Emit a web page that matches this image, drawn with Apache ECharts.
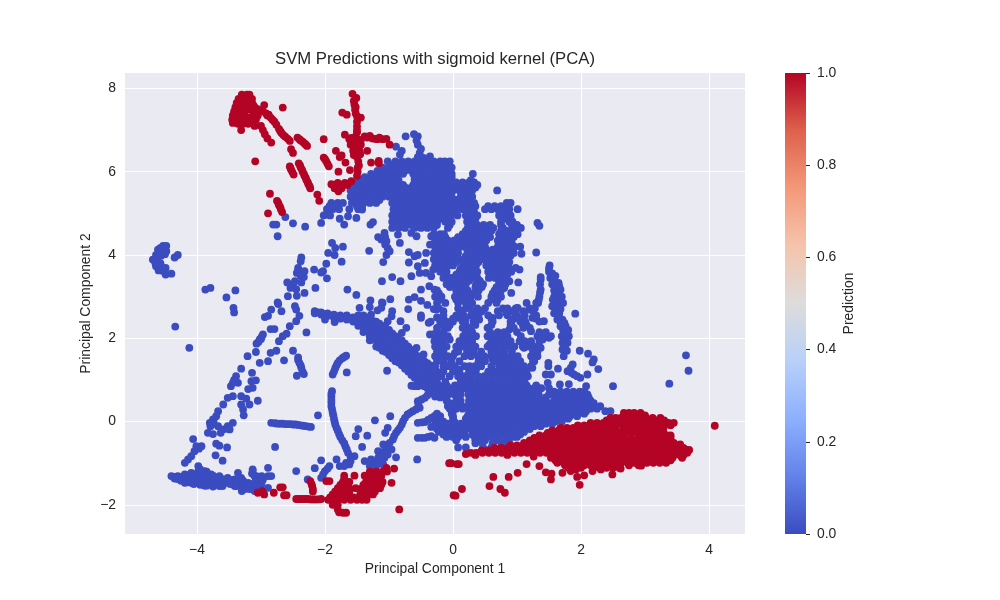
<!DOCTYPE html>
<html><head><meta charset="utf-8">
<script src="https://cdn.jsdelivr.net/npm/echarts@6/dist/echarts.min.js"></script>
<style>html,body{margin:0;padding:0;background:#fff}#c{width:1000px;height:600px}</style>
</head><body><div id="c"></div>
<script>
const title = "SVM Predictions with sigmoid kernel (PCA)";
const xTicks = [-4,-2,0,2,4];
const yTicks = [-2,0,2,4,6,8];
const barTicks = [0,0.2,0.4,0.6,0.8,1.0];
const BLUE = "#3b4cc0", RED = "#b40426";

const blueLeftClump = [[-4.53,4.22],[-4.48,4.22],[-4.61,4.13],[-4.53,4.09],[-4.48,4.09],[-4.64,4],[-4.56,3.98],[-4.69,3.89],[-4.62,3.85],[-4.64,3.73],[-4.56,3.71],[-4.49,3.69],[-4.6,3.63],[-4.49,3.53],[-4.4,3.55],[-4.35,3.94],[-4.3,4],[-4.57,4.17],[-4.57,4.05],[-4.5,4.02],[-4.65,3.8],[-4.57,3.8],[-4.54,3.62]];
const blueSparseUpper = [[-2.76,4.73],[-2.81,4.73],[-2.62,4.91],[-2.5,4.76],[-2.31,4.68],[-2.74,4.45],[-2.06,4.77],[-1.95,4.97],[-1.77,4.87],[-1.7,4.73],[-1.64,4.93],[-1.51,4.89],[-1.42,5.09],[-1.29,4.73],[-1.25,4.79],[-1.12,4.37],[-1.04,4.33],[-1.07,4.53],[-1.02,4.17],[-0.99,4.09],[-1.04,4],[-0.83,4.29],[-0.86,4.49],[-0.65,4.53],[-0.57,4.45],[-1.31,4.1],[-1.09,3.83],[-0.69,4.07],[-0.6,3.97],[-0.55,4],[-0.69,3.82],[-1.89,4.29],[-1.84,4.17],[-1.72,4.2],[-1.95,4.05],[-1.85,4],[-1.74,3.84],[-2.37,3.94],[-2.38,3.85],[-2.42,3.69],[-2.44,3.57],[-2.32,3.61],[-2.33,3.47],[-2.17,3.65],[-1.98,3.79],[-2.03,3.61],[-2.06,3.58],[-1.97,3.44],[-2.59,3.34],[-2.47,3.37],[-2.37,3.34],[-2.54,3.21],[-2.45,3.18],[-2.15,3.21],[-2.32,3.09],[-2.58,3.01],[-2.44,3.02],[-3.87,3.17],[-3.79,3.21],[-3.4,3.15],[-3.54,2.98],[-2.74,2.86],[-1.65,3.17],[-1.51,3.04],[-1.29,2.91],[-1.11,2.86],[-0.98,2.94],[-1.11,3.37],[-0.95,3.47],[-0.82,3.37],[-0.69,2.93],[-0.6,2.99],[-0.65,3.49],[-0.55,3.73],[-0.44,3.81],[-0.52,3.57],[-0.42,3.57],[-0.34,3.49],[-0.5,3.17],[-0.37,3.25],[-0.29,3.17],[-0.31,3.65],[-0.42,4.05],[-0.36,4.25],[-0.34,4.45],[-0.5,2.9],[-0.4,2.8],[-0.3,2.7],[-0.35,2.4],[-0.5,2.55],[-0.25,2.5],[-0.7,2.7],[-0.95,2.65],[-1.1,2.85],[-1.3,2.75],[-0.74,6.85],[-0.61,6.9],[-0.55,6.85],[-0.55,6.65],[-0.52,6.45],[-0.89,6.6],[-0.83,6.41],[-0.36,6.37],[-0.57,6.75],[-0.5,6.55],[-0.55,6.35],[-0.8,6.5],[-0.46,6.33],[-1.17,4.43],[-1.06,4.43],[-1.06,4.25],[-2.42,3.63],[-2.38,3.5],[-2.5,3.3]];
const blueMidScatter = [[-0.26,2.69],[-0.16,2.45],[-0.08,2.25],[0.08,2.49],[0.16,2.57],[0.26,2.73],[0.36,2.65],[0.41,2.45],[0.54,2.25],[0.62,2.49],[0.83,2.61],[0.93,2.65],[1.01,2.73],[0.91,2.37],[0.88,2.21],[1.09,2.33],[1.19,2.69],[1.24,2.49],[1.22,2.17],[1.42,2.41],[1.5,2.01],[1.4,1.97],[1.37,1.77],[1.3,1.65],[1.27,1.45],[1.24,1.29],[1.11,1.77],[1.22,1.85],[1.04,1.93],[0.88,1.85],[0.8,2.01],[0.65,2.05],[0.57,1.85],[0.49,1.53],[0.62,1.49],[0.78,1.53],[0.96,1.53],[1.04,1.41],[0.26,1.33],[0.36,1.25],[0.1,1.25],[0.03,1.65],[-0.05,1.97],[-0.21,1.65],[-0.08,1.33]];
const blueSparseLeft = [[-4.34,2.28],[-4.12,1.77],[-3.43,2.73],[-3.42,2.62],[-2.73,2.82],[-2.84,2.69],[-2.89,2.54],[-2.94,2.51],[-2.68,2.65],[-2.47,2.77],[-2.45,2.69],[-2.4,2.54],[-2.45,2.41],[-2.55,2.29],[-2.85,2.22],[-2.79,2.22],[-2.29,2.14],[-2.6,2.11],[-2.66,2.05],[-2.72,1.93],[-2.97,2.09],[-3.02,1.97],[-3.07,1.87],[-3.08,1.67],[-3.21,1.57],[-2.76,1.7],[-2.85,1.65],[-2.89,1.45],[-3.02,1.41],[-2.5,1.7],[-2.42,1.54],[-2.4,1.41],[-2.37,1.29],[-2.33,1.14],[-2.44,1.1],[-2.64,1.47],[-3.31,1.27],[-3.14,1.17],[-3.39,1.09],[-3.08,0.99],[-3.15,0.97],[-3.44,0.93],[-3.47,0.85],[-3.36,0.93],[-3.13,0.81],[-3.2,0.78],[-3.31,0.61],[-3.23,0.55],[-3.44,0.61],[-3.52,0.57],[-3.59,0.41],[-3.05,0.5],[-3.18,0.41],[-3.31,0.41],[-3.28,0.29],[-3.27,0.15],[-3.67,0.25],[-3.7,0.13],[-3.75,0.05],[-3.8,-0.03],[-3.79,-0.11],[-3.44,-0.03],[-3.52,-0.11],[-3.67,-0.11],[-3.57,-0.18],[-3.49,-0.19],[-3.83,-0.27],[-3.75,-0.3],[-3.63,-0.27],[-4.06,-0.42],[-3.93,-0.59],[-4.01,-0.59],[-4.04,-0.71],[-4.09,-0.83],[-4.14,-0.91],[-4.19,-0.99],[-3.7,-0.53],[-3.65,-0.58],[-3.53,-0.62],[-3.71,-0.81],[-3.6,-0.94],[-2.78,-0.61],[-2.11,0.15],[-3.04,1.91],[-2.99,2.03],[-3,1.98],[-3.42,1],[-3.39,0.95],[-3.97,-0.65],[-3.74,0],[-3.77,-0.07],[-2.42,1.48],[-2.38,1.35],[-2.35,1.2]];
const blueStreaks = [[-2.84,-0.03],[-2.78,-0.04],[-2.7,-0.05],[-2.62,-0.06],[-2.54,-0.06],[-2.46,-0.07],[-2.38,-0.09],[-2.3,-0.11],[-2.22,-0.13],[-2.74,-0.05],[-2.66,-0.05],[-2.58,-0.06],[-2.5,-0.07],[-2.42,-0.08],[-2.34,-0.1],[-2.26,-0.12],[-1.67,1.58],[-1.73,1.52],[-1.8,1.41],[-1.84,1.28],[-1.88,1.13],[-1.7,1.55],[-1.77,1.47],[-1.82,1.35],[-1.86,1.2],[-1.66,1.18],[-1.03,1.22],[-1.89,0.73],[-1.9,0.6],[-1.9,0.45],[-1.89,0.3],[-1.87,0.15],[-1.85,0],[-1.82,-0.15],[-1.78,-0.3],[-1.73,-0.45],[-1.68,-0.6],[-1.64,-0.75],[-1.6,-0.85],[-1.9,0.67],[-1.9,0.52],[-1.9,0.37],[-1.88,0.22],[-1.86,0.07],[-1.84,-0.07],[-1.8,-0.22],[-1.76,-0.37],[-1.7,-0.52],[-1.66,-0.67],[-1.22,0.03],[-0.98,0.13],[-1.02,-0.15],[-1.06,-0.27],[-1.48,-0.18],[-1.52,-0.35],[-1.34,-0.34],[-1.42,-0.61],[-0.89,-0.86],[-0.56,-0.91],[-1.38,-0.95],[-1.3,-1.07],[-1.2,-1.07],[-1.09,-1.03],[-1.28,-0.91],[-1.17,-0.87],[-1.07,-0.87],[-1.17,-0.71],[-1.07,-0.71],[-0.96,-0.67],[-1.09,-0.55],[-0.99,-0.51],[-0.94,-0.43],[-0.89,-0.27],[-0.83,-0.15],[-0.78,0.01],[-0.71,0.17],[-0.63,0.25],[-0.52,0.33],[-0.55,0.49],[-0.44,0.57],[-0.36,0.69],[-1.22,-0.98],[-1.12,-0.95],[-1.12,-0.79],[-1.02,-0.79],[-1.03,-0.6],[-0.92,-0.35],[-0.86,-0.21],[-0.8,-0.07],[-0.75,0.09],[-0.67,0.21],[-0.58,0.29],[-0.54,0.41],[-0.49,0.53],[-0.4,0.63],[-0.55,-0.03],[-0.44,-0.01],[-0.34,0.09],[-0.29,0.13],[-0.49,-0.02],[-0.39,0.04],[-0.34,-0.13],[-0.29,-0.11],[-0.55,-0.39],[-0.44,-0.39],[-0.34,-0.35],[-0.29,-0.39],[-0.49,-0.39],[-0.39,-0.37],[-0.65,0.86],[-0.55,0.85],[-0.44,0.93],[-0.6,0.85],[-1.54,-0.83],[-1.67,-0.99],[-1.77,-1.07],[-1.82,-0.91],[-2.06,-0.93],[-1.93,-1.07],[-2,-1.19],[-2.06,-1.35],[-2.16,-1.12],[-2.45,-1.19],[-2.89,-1.11],[-3.13,-1.19],[-3.07,-1.31],[-2.97,-1.39],[-2.27,-1.39],[-1.7,-1.07],[-1.62,-1.03],[-1.96,-1.13],[-2.03,-1.27],[-1.6,-0.95]];
const blueWedge = [[-4.4,-1.31],[-4.3,-1.31],[-4.3,-1.38],[-4.19,-1.27],[-4.19,-1.39],[-4.19,-1.47],[-4.09,-1.23],[-4.09,-1.35],[-4.09,-1.47],[-3.98,-1.07],[-3.98,-1.19],[-3.98,-1.31],[-3.98,-1.43],[-3.88,-1.19],[-3.88,-1.31],[-3.88,-1.43],[-3.88,-1.54],[-3.78,-1.27],[-3.78,-1.39],[-3.78,-1.51],[-3.65,-1.31],[-3.65,-1.43],[-3.65,-1.55],[-3.52,-1.35],[-3.52,-1.47],[-3.41,-1.39],[-3.41,-1.55],[-3.36,-1.23],[-3.31,-1.35],[-3.31,-1.51],[-3.3,-1.67],[-3.2,-1.47],[-3.2,-1.59],[-3.13,-1.15],[-3.1,-1.31],[-3.1,-1.47],[-3.1,-1.67],[-2.99,-1.31],[-2.99,-1.47],[-2.89,-1.31],[-2.84,-1.31],[-2.89,-1.59],[-4.35,-1.33],[-4.35,-1.37],[-4.25,-1.33],[-4.25,-1.42],[-4.15,-1.3],[-4.15,-1.38],[-4.15,-1.46],[-4.05,-1.27],[-4.05,-1.35],[-4.05,-1.42],[-4.05,-1.5],[-3.95,-1.15],[-3.95,-1.25],[-3.95,-1.35],[-3.95,-1.45],[-3.95,-1.52],[-3.85,-1.2],[-3.85,-1.28],[-3.85,-1.38],[-3.85,-1.48],[-3.85,-1.54],[-3.75,-1.3],[-3.75,-1.4],[-3.75,-1.5],[-3.75,-1.56],[-3.7,-1.35],[-3.7,-1.47],[-3.6,-1.38],[-3.6,-1.5],[-3.6,-1.55],[-3.48,-1.4],[-3.48,-1.5],[-3.38,-1.45],[-3.38,-1.55],[-3.28,-1.42],[-3.28,-1.58],[-3.18,-1.5],[-3.18,-1.62],[-3.08,-1.4],[-3.08,-1.55],[-3.08,-1.62],[-3,-1.4],[-3,-1.55],[-3.25,-1.62],[-3.14,-1.25]];
const blueBand = [[-2.16,2.65],[-2.16,2.6],[-2.06,2.62],[-2.06,2.57],[-1.96,2.6],[-1.96,2.54],[-1.86,2.57],[-1.86,2.5],[-1.76,2.55],[-1.76,2.47],[-1.66,2.55],[-1.66,2.45],[-1.56,2.5],[-1.56,2.4],[-1.48,2.55],[-1.48,2.4],[-1.48,2.3],[-1.4,2.55],[-1.4,2.4],[-1.4,2.25],[-1.4,2.15],[-1.3,2.5],[-1.3,2.35],[-1.3,2.2],[-1.3,2.05],[-1.3,1.95],[-1.2,2.4],[-1.2,2.25],[-1.2,2.1],[-1.2,1.95],[-1.2,1.8],[-1.1,2.3],[-1.1,2.15],[-1.1,2],[-1.1,1.85],[-1.1,1.7],[-1,2.2],[-1,2.05],[-1,1.9],[-1,1.75],[-1,1.6],[-0.9,2.05],[-0.9,1.9],[-0.9,1.75],[-0.9,1.6],[-0.9,1.45],[-0.8,1.95],[-0.8,1.8],[-0.8,1.65],[-0.8,1.5],[-0.8,1.35],[-0.7,1.8],[-0.7,1.65],[-0.7,1.5],[-0.7,1.35],[-0.7,1.2],[-0.6,1.65],[-0.6,1.5],[-0.6,1.35],[-0.6,1.2],[-0.6,1.05],[-0.5,1.5],[-0.5,1.35],[-0.5,1.2],[-0.5,1.05],[-0.5,0.9],[-0.4,1.4],[-0.4,1.25],[-0.4,1.1],[-0.4,0.95],[-0.4,0.8],[-0.3,1.3],[-0.3,1.15],[-0.3,1],[-0.3,0.85],[-0.3,0.7],[-2,2.45],[-1.85,2.39],[-1.46,2.73],[-1.28,2.57],[-1.12,2.73],[-1.18,2.67],[-0.96,2.53],[-1.02,2.41],[-0.82,2.41],[-0.73,2.25],[-0.8,2.13],[-0.5,2.49],[-0.38,2.37],[-0.3,2.1],[-0.57,1.77],[-0.46,1.61],[-0.36,2.09],[-0.29,1.93],[-2.11,2.62],[-2.01,2.58],[-1.91,2.55],[-1.81,2.52],[-1.71,2.5],[-1.61,2.48],[-1.52,2.46],[-1.44,2.48],[-1.44,2.32],[-1.35,2.48],[-1.35,2.32],[-1.35,2.18],[-1.25,2.42],[-1.25,2.28],[-1.25,2.12],[-1.25,1.97],[-1.15,2.35],[-1.15,2.2],[-1.15,2.05],[-1.15,1.9],[-1.15,1.77],[-1.05,2.25],[-1.05,2.1],[-1.05,1.95],[-1.05,1.8],[-1.05,1.67],[-0.95,2.12],[-0.95,1.97],[-0.95,1.82],[-0.95,1.67],[-0.95,1.52],[-0.85,2],[-0.85,1.85],[-0.85,1.7],[-0.85,1.55],[-0.85,1.42],[-0.75,1.87],[-0.75,1.72],[-0.75,1.57],[-0.75,1.42],[-0.75,1.27],[-0.65,1.72],[-0.65,1.57],[-0.65,1.42],[-0.65,1.27],[-0.65,1.12],[-0.55,1.57],[-0.55,1.42],[-0.55,1.27],[-0.55,1.12],[-0.55,0.97],[-0.45,1.45],[-0.45,1.3],[-0.45,1.15],[-0.45,1],[-0.45,0.85],[-0.35,1.35],[-0.35,1.2],[-0.35,1.05],[-0.35,0.9],[-0.35,0.75],[-0.28,0.6],[-0.2,1.1]];
const blueColumn = [[1.51,3.75],[1.5,3.6],[1.55,3.56],[1.6,3.5],[1.52,3.45],[1.65,3.33],[1.55,3.3],[1.68,3.17],[1.58,3.15],[1.7,3],[1.58,3],[1.72,2.85],[1.6,2.85],[1.55,2.77],[1.63,2.77],[1.58,2.6],[1.66,2.6],[1.63,2.45],[1.71,2.45],[1.68,2.29],[1.76,2.29],[1.74,2.13],[1.81,2.05],[1.71,1.89],[1.79,1.89],[1.71,1.73],[1.73,1.57],[1.75,2],[1.37,3.47],[1.37,3.41],[1.37,3.17],[1.35,3],[1.33,2.85],[1.91,2.59],[1.98,1.7],[2.11,1.63],[2.2,1.49],[2.18,1.42],[2.27,1.26],[2.5,0.85],[3.64,1.59],[3.68,1.22],[3.38,0.91],[1.49,1.41],[1.49,1.33],[1.64,1.27],[1.87,1.37],[1.79,1.21],[1.89,1.13],[1.99,1.05],[2.1,1.13],[2.08,0.85],[1.53,1.13],[1.45,1.13],[1.48,0.93],[1.67,0.89],[1.81,0.9],[1.02,3.34],[0.88,3.37],[0.8,3.21],[0.7,3.09],[0.91,3.09],[1.32,4.77],[1.35,4.7],[1.3,4.06],[1.07,4.03],[0.98,3.69],[1.04,3.65],[1.56,3.45],[1.62,3.2],[1.64,3.05],[1.65,2.9],[1.6,2.7],[1.68,2.7],[1.65,2.55],[1.68,2.37],[1.74,2.37],[1.72,2.2],[1.8,2.2],[1.78,2],[1.7,2.05],[1.75,1.8],[1.78,1.7],[1.36,3.3],[1.36,3.1],[1.34,2.92],[1.5,3.68],[1.58,3.4],[1.62,3.1],[1.66,3.25],[1.56,2.93],[1.84,1.29],[1.85,1.17],[1.94,1.09]];
const blueRows = [
[6.25,[-1.02,-0.9,-0.8,-0.7,-0.6,-0.5,-0.4,-0.3,-0.2,-0.13,-0.05]],
[6.17,[-0.95,-0.85,-0.75,-0.65,-0.55,-0.45,-0.35,-0.25,-0.15,-0.07]],
[6.1,[-1.1,-1,-0.9,-0.8,-0.7,-0.6,-0.5,-0.4,-0.3,-0.2,-0.1,-0.02]],
[6.02,[-1.18,-1.05,-0.95,-0.85,-0.75,-0.65,-0.55,-0.45,-0.35,-0.25,-0.15,-0.05]],
[5.95,[-1.28,-1.18,-1.08,-0.98,-0.88,-0.78,-0.62,-0.52,-0.42,-0.32,-0.22,-0.12,-0.02,0.31]],
[5.87,[-1.38,-1.28,-1.18,-1.08,-0.98,-0.88,-0.6,-0.5,-0.4,-0.3,-0.2,-0.1,-0.02]],
[5.8,[-1.45,-1.35,-1.25,-1.15,-1.05,-0.95,-0.85,-0.6,-0.5,-0.4,-0.3,-0.2,-0.1,-0.03,0.28]],
[5.74,[-1.5,-1.4,-1.3,-1.2,-1.1,-1,-0.9,-0.55,-0.45,-0.35,-0.25,-0.15,-0.05,0.05,0.15,0.25,0.33]],
[5.68,[-1.55,-1.45,-1.35,-1.25,-1.15,-1.05,-0.95,-0.85,-0.78,-0.62,-0.5,-0.4,-0.3,-0.2,-0.1,0,0.1,0.2,0.3,0.38]],
[5.62,[-1.58,-1.45,-1.35,-1.25,-1.15,-1.05,-0.95,-0.85,-0.75,-0.65,-0.55,-0.45,-0.35,-0.25,-0.15,-0.05,0.05,0.15,0.25,0.35]],
[5.55,[-1.6,-1.5,-1.4,-1.3,-1.2,-1.1,-1,-0.9,-0.8,-0.7,-0.6,-0.5,-0.4,-0.3,-0.2,-0.1,0,0.1,0.2,0.3,0.69]],
[5.47,[-1.55,-1.45,-1.35,-1.25,-1.15,-1.05,-0.95,-0.85,-0.75,-0.65,-0.55,-0.45,-0.35,-0.25,-0.15,-0.05,0.15,0.25]],
[5.4,[-1.6,-1.5,-1.4,-1.3,-1.2,-1.1,-1,-0.9,-0.8,-0.7,-0.6,-0.5,-0.4,-0.3,-0.2,-0.1,-0.02,0.12,0.22,0.3]],
[5.32,[-1.55,-1.45,-1.35,-1.25,-1.15,-0.9,-0.8,-0.7,-0.6,-0.5,-0.4,-0.3,-0.2,-0.1,0.05,0.15,0.25]],
[5.25,[-1.9,-1.8,-1.72,-1.58,-1.48,-1.4,-1.3,-1.2,-0.95,-0.85,-0.75,-0.65,-0.55,-0.45,-0.35,-0.25,-0.15,-0.05,0,0.1,0.2,0.33,0.84,0.9]],
[5.17,[-1.93,-1.83,-1.5,-1.42,-0.9,-0.8,-0.7,-0.6,-0.5,-0.4,-0.3,-0.2,-0.08,0.1,0.25,0.35,0.55,0.65,0.75,0.85]],
[5.1,[-1.97,-1.88,-1.78,-1.62,-1.48,-0.93,-0.83,-0.73,-0.63,-0.53,-0.43,-0.33,-0.23,-0.13,-0.03,0.05,0.15,0.32,0.5,0.6,0.7,0.8,0.88,1.01]],
[5.02,[-0.9,-0.8,-0.7,-0.6,-0.5,-0.4,-0.3,-0.2,-0.1,0.02,0.25,0.33,0.8]],
[4.95,[-2.02,-1.92,-0.95,-0.85,-0.75,-0.65,-0.55,-0.45,-0.35,-0.25,-0.13,-0.03,0.07,0.2,0.3,0.38,0.72,0.85,0.9]],
[4.87,[-0.9,-0.8,-0.7,-0.6,-0.5,-0.4,-0.3,-0.2,-0.05,0.25,0.35,0.8,0.9]],
[4.8,[-0.95,-0.85,-0.75,-0.65,-0.55,-0.45,-0.35,-0.25,-0.12,-0.02,0.22,0.32,0.75,0.88,0.93]],
[4.72,[-0.9,-0.8,-0.65,-0.55,-0.45,-0.35,-0.25,-0.05,0.28,0.38,0.48,0.58,0.75,0.92,1]],
[4.65,[-0.95,-0.85,-0.75,-0.6,-0.5,-0.4,-0.3,-0.08,0.23,0.33,0.43,0.53,0.63,0.78,0.95,1.06]],
[4.58,[0.2,0.3,0.4,0.5,0.6,0.75,0.85,0.95]],
[4.5,[-0.3,-0.2,-0.14,0.15,0.25,0.35,0.45,0.55,0.72,0.82,0.92,1.01]],
[4.43,[-0.22,-0.12,0.08,0.18,0.28,0.38,0.48,0.58,0.75,0.85,0.95]],
[4.35,[-0.28,-0.18,-0.08,0.02,0.13,0.22,0.32,0.42,0.52,0.7,0.8,0.9]],
[4.28,[-0.22,-0.12,-0.02,0.08,0.18,0.28,0.38,0.48,0.72,0.82,0.92]],
[4.2,[-0.28,-0.18,-0.08,0.02,0.12,0.2,0.3,0.4,0.5,0.7,0.8,0.9,0.96,1.05]],
[4.13,[-0.25,-0.15,-0.05,0.05,0.22,0.32,0.42,0.52,0.62,0.72,0.82,0.92]],
[4.05,[-0.3,-0.2,-0.1,0,0.08,0.26,0.36,0.46,0.56,0.66,0.76,0.86,0.95]],
[3.98,[-0.25,-0.15,-0.05,0.05,0.2,0.3,0.4,0.5,0.6,0.7,0.8,0.9]],
[3.9,[-0.3,-0.2,-0.1,0,0.1,0.25,0.35,0.45,0.55,0.65,0.75,0.85]],
[3.83,[-0.25,-0.15,-0.05,0.05,0.2,0.3,0.4,0.58,0.68,0.78,0.88]],
[3.75,[-0.28,-0.18,-0.08,0,0.16,0.26,0.36,0.52,0.62,0.72,0.82]],
[3.68,[-0.25,-0.13,0.12,0.22,0.32,0.58,0.68,0.78,0.88]],
[3.6,[-0.2,-0.1,0.1,0.2,0.3,0.38,0.55,0.65,0.75,0.8,0.91]],
[3.53,[-0.12,0.05,0.15,0.25,0.35,0.6,0.7,0.85]],
[3.45,[-0.15,-0.05,0,0.08,0.18,0.28,0.38,0.56,0.66,0.78]],
[3.38,[-0.05,0.05,0.15,0.25,0.42,0.72,0.82]],
[3.3,[-0.1,0,0.1,0.2,0.36,0.47,0.72,0.82]],
[3.23,[-0.05,0.08,0.18,0.35,0.45,0.68,0.78]],
[3.15,[-0.25,0.05,0.15,0.23,0.4,0.65,0.75]],
[3.08,[-0.22,0.1,0.2,0.32,0.62,0.72]],
[3,[-0.28,-0.18,0.03,0.13,0.22,0.28,0.39,0.6,0.7,0.75]],
[2.93,[-0.2,0.05,0.15,0.25,0.6,0.7]],
[2.85,[-0.25,-0.12,0.08,0.2,0.3,0.55,0.68,1.15,1.3]],
[2.72,[-0.22,0.08,0.2,0.38,0.5,0.78,0.85,0.98,1,1.2,1.28]],
[2.65,[-0.15,0.12,0.3,0.45,0.7,0.95,1.1,1.25]],
[2.55,[-0.15,0.05,0.12,0.28,0.4,0.55,0.72,0.85,1,1.12,1.3]],
[2.47,[-0.15,0,0.2,0.35,0.6,0.95,1.1,1.3]],
[2.4,[-0.2,-0.1,0,0.15,0.32,0.62,0.9,1.05,1.13,1.35]],
[2.32,[-0.2,-0.05,0.2,0.35,0.6,0.9,1.15]],
[2.25,[-0.25,-0.12,0.15,0.28,0.55,0.95,1.1,1.2]],
[2.15,[-0.25,-0.15,0.2,0.3,0.58,0.7,0.8,1,1.35,1.45]],
[2.05,[-0.28,-0.18,-0.08,0.16,0.26,0.36,0.54,0.64,0.74,0.85,1.06,1.32,1.42,1.53]],
[1.93,[-0.25,-0.15,0.1,0.2,0.3,0.6,0.7,0.8,0.9,1.12,1.22,1.35]],
[1.8,[-0.28,-0.18,-0.1,0.05,0.15,0.25,0.35,0.54,0.64,0.74,0.84,0.96,1.09,1.18,1.27,1.35]],
[1.68,[-0.25,-0.15,0.08,0.22,0.32,0.44,0.6,0.7,0.8,0.92,1.25,1.32]],
[1.57,[-0.28,-0.18,-0.08,0,0.18,0.28,0.39,0.49,0.6,0.7,0.8,0.9,1.01,1.22,1.32]],
[1.45,[-0.25,-0.15,-0.03,0.1,0.4,0.5,0.65,0.75,0.85,0.95,1.05,1.25]],
[1.33,[-0.28,-0.15,0.03,0.18,0.34,0.44,0.6,0.72,0.82,0.92,1.02,1.11,1.22]],
[1.2,[-0.25,-0.15,0,0.1,0.25,0.35,0.55,0.65,0.75,0.85,0.95,1.05,1.15]],
[1.09,[-0.28,-0.18,-0.05,0.08,0.18,0.28,0.39,0.49,0.6,0.7,0.8,0.9,1,1.1,1.17]],
[0.95,[-0.25,-0.12,0.12,0.22,0.32,0.42,0.52,0.62,0.72,0.82,0.92,1.02,1.12]],
[0.87,[-0.22,-0.1,0.03,0.15,0.25,0.35,0.45,0.55,0.65,0.75,0.85,0.95,1.05,1.15,1.3]],
[0.8,[-0.28,-0.18,-0.05,0.08,0.18,0.28,0.38,0.48,0.58,0.68,0.78,0.88,0.98,1.08,1.18,1.27,1.38,1.5]],
[0.72,[-0.25,-0.15,0,0.1,0.3,0.4,0.5,0.6,0.7,0.8,0.9,1,1.1,1.2,1.3,1.58,1.68,1.78,1.88,1.98,2.05]],
[0.65,[-0.28,-0.18,-0.08,0.02,0.12,0.24,0.34,0.44,0.54,0.64,0.74,0.84,0.94,1.04,1.14,1.24,1.34,1.5,1.6,1.72,1.82,1.92,2.02,2.1]],
[0.58,[-0.2,-0.1,0.3,0.4,0.5,0.6,0.7,0.8,0.9,1,1.1,1.2,1.3,1.45,1.6,1.7,1.8,1.9,2,2.12]],
[0.5,[-0.1,0.05,0.12,0.25,0.35,0.45,0.55,0.65,0.75,0.85,0.95,1.05,1.15,1.25,1.4,1.58,1.68,1.78,1.88,1.98,2.08,2.15]],
[0.44,[-0.05,0.1,0.3,0.4,0.5,0.6,0.7,0.8,0.9,1,1.1,1.2,1.3,1.4,1.5,1.6,1.7,1.8,1.9,2,2.1,2.2]],
[0.37,[-0.08,0.02,0.12,0.22,0.32,0.42,0.52,0.62,0.72,0.82,0.92,1.02,1.12,1.22,1.32,1.42,1.52,1.62,1.72,1.82,1.92,2.02,2.12,2.2,2.3]],
[0.31,[-0.05,0.05,0.15,0.25,0.35,0.45,0.55,0.65,0.75,0.85,0.95,1.05,1.15,1.25,1.35,1.45,1.55,1.65,1.75,1.85,1.95,2.05,2.15,2.25]],
[0.25,[0,0.28,0.38,0.48,0.58,0.68,0.78,0.88,0.98,1.08,1.18,1.28,1.38,1.48,1.58,1.68,1.78,1.88,1.98,2.08,2.38,2.46]],
[0.19,[-0.25,-0.02,0.25,0.35,0.45,0.55,0.65,0.75,0.85,0.95,1.05,1.15,1.25,1.35,1.45,1.55,1.65,1.75,1.85,1.95,2.05]],
[0.13,[-0.28,-0.2,0,0.23,0.33,0.43,0.53,0.63,0.73,0.83,0.93,1.03,1.13,1.23,1.33,1.43,1.53,1.63,1.73,1.83,1.94]],
[0.07,[-0.22,0,0.2,0.3,0.4,0.5,0.6,0.7,0.8,0.9,1,1.1,1.2,1.3,1.4,1.5,1.6,1.7,1.8]],
[0,[-0.25,-0.15,0.02,0.2,0.3,0.4,0.5,0.6,0.7,0.8,0.9,1,1.1,1.2,1.3,1.4,1.5,1.6,1.7]],
[-0.05,[-0.28,-0.18,-0.08,0.02,0.12,0.25,0.35,0.45,0.55,0.65,0.75,0.85,0.95,1.05,1.15,1.25,1.35,1.45,1.55]],
[-0.11,[-0.28,-0.18,-0.08,0.02,0.12,0.23,0.33,0.43,0.53,0.63,0.73,0.83,0.93,1.03,1.13,1.27,1.37]],
[-0.18,[-0.25,-0.15,-0.05,0.05,0.15,0.28,0.38,0.48,0.58,0.68,0.78,0.88,0.98,1.08,1.2]],
[-0.25,[-0.22,-0.1,0,0.1,0.18,0.34,0.44,0.54,0.64,0.74,0.84,0.94,1.04,1.11]],
[-0.31,[-0.15,0.02,0.15,0.3,0.4,0.5,0.6,0.7,0.8,0.9,1,1.05]],
[-0.37,[-0.1,0,0.08,0.2,0.34,0.44,0.54,0.64,0.74,0.84,0.94,1]],
[-0.45,[0.05,0.35,0.5,0.7,0.85]],
[-0.52,[0.35,0.46,0.62,0.76,0.88]],
[-0.62,[0.08,0.2,0.47,0.6]]
];

const redTopLeft = [[-2.66,7.54],[-3.09,6.25],[-3,7.1],[-2.97,7],[-2.94,6.9],[-2.9,6.8],[-2.84,6.7],[-2.97,7.45],[-2.88,7.37],[-2.82,7.25],[-2.76,7.13],[-2.72,7.03],[-2.68,6.93],[-2.62,6.84],[-2.55,6.74],[-2.43,6.82],[-2.38,6.75],[-2.32,6.68],[-2.28,6.62],[-2.02,6.78],[-2.53,6.54],[-2.5,6.45],[-2.55,6.13],[-2.53,6.05],[-2.49,5.93],[-2.41,6.2],[-2.38,6.1],[-2.35,6],[-2.32,5.9],[-2.29,5.8],[-2.26,5.7],[-2.23,5.6],[-2.12,5.45],[-2.09,5.3],[-2.02,6.34],[-1.98,6.25],[-1.94,6.13],[-1.83,6.5],[-1.74,6.39],[-1.77,6.35],[-1.68,6.22],[-1.79,6],[-1.61,6.04],[-2.86,5.47],[-2.75,5.3],[-2.72,5.2],[-2.69,5.1],[-2.67,5.03],[-2.89,5],[-2.92,7.4],[-2.85,7.3],[-2.79,7.2],[-2.7,6.98],[-2.65,6.88],[-2.58,6.79],[-2.4,6.78],[-2.35,6.72],[-2.3,6.65],[-2.39,6.15],[-2.36,6.05],[-2.33,5.95],[-2.3,5.85],[-2.27,5.75],[-2.24,5.65],[-2.54,6.09],[-2.51,5.99],[-2.73,5.25],[-2.7,5.15],[-2,6.3],[-1.96,6.19]];
const redClump = [[-3.3,7.85],[-3.22,7.85],[-3.18,7.85],[-3.35,7.75],[-3.28,7.75],[-3.2,7.75],[-3.14,7.75],[-3.38,7.65],[-3.3,7.65],[-3.22,7.65],[-3.14,7.65],[-3.4,7.55],[-3.32,7.55],[-3.25,7.55],[-3.17,7.55],[-3.1,7.55],[-2.95,7.6],[-3.42,7.45],[-3.34,7.45],[-3.27,7.45],[-3.1,7.45],[-3.03,7.45],[-3.44,7.35],[-3.37,7.35],[-3.3,7.35],[-3.25,7.35],[-3.12,7.35],[-3.05,7.35],[-2.9,7.35],[-3.45,7.25],[-3.38,7.25],[-3.3,7.25],[-3.22,7.25],[-3.15,7.25],[-3.08,7.25],[-3.44,7.17],[-3.36,7.15],[-3.28,7.15],[-3.2,7.15],[-3.12,7.15],[-3.31,7],[-3.1,7.1],[-3.26,7.8],[-3.32,7.7],[-3.24,7.7],[-3.17,7.7],[-3.34,7.6],[-3.26,7.6],[-3.18,7.6],[-3.12,7.6],[-3.36,7.5],[-3.28,7.5],[-3.2,7.5],[-3.13,7.5],[-3.05,7.5],[-3.38,7.4],[-3.32,7.4],[-3.12,7.4],[-3.08,7.3],[-3.42,7.3],[-3.34,7.3],[-3.26,7.3],[-3.18,7.3],[-3.4,7.2],[-3.32,7.2],[-3.24,7.2],[-3.16,7.2]];
const redSpine = [[-1.57,7.87],[-1.51,7.77],[-1.54,7.61],[-1.53,7.49],[-1.5,7.33],[-1.44,7.3],[-1.5,7.09],[-1.73,7.42],[-1.66,7.37],[-1.5,6.95],[-1.52,6.85],[-1.69,6.89],[-1.59,6.81],[-1.48,6.77],[-1.38,6.85],[-1.3,6.86],[-1.22,6.79],[-1.15,6.82],[-1.04,6.79],[-0.99,6.65],[-1.6,6.65],[-1.52,6.65],[-1.44,6.65],[-1.56,6.5],[-1.46,6.5],[-1.55,6.4],[-1.45,6.42],[-1.34,6.5],[-1.28,6.22],[-1.16,6.26],[-1.16,6.2],[-1.48,6.25],[-1.49,6.1],[-1.49,6],[-1.5,5.9],[-1.9,5.7],[-1.8,5.73],[-1.69,5.73],[-1.59,5.77],[-1.85,5.6],[-1.74,5.6],[-1.79,5.53],[-1.55,7.7],[-1.52,7.55],[-1.52,7.4],[-1.5,7.2],[-1.5,7],[-1.55,6.55],[-1.5,6.58],[-1.5,6.35],[-1.47,6.15],[-1.54,6.75],[-1.44,6.76],[-1.34,6.82],[-1.26,6.8],[-1.18,6.78],[-1.1,6.78],[-1.62,6.78],[-1.85,5.68],[-1.75,5.68],[-1.65,5.68],[-1.8,5.6]];
const redIsolated = [[4.09,-0.1],[-0.06,-1],[0.09,-1.02],[0.63,-1.33],[0.87,-1.33],[1.01,-1.23],[1.15,-1.02],[1.26,-0.84],[1.35,-1.07],[1.45,-1.22],[1.54,-1.25],[1.53,-1.39],[0.57,-1.55],[0.74,-1.62],[0.81,-1.71],[0.14,-1.62],[0.01,-1.77],[1.98,-1.52],[1.94,-1.33],[2.05,-1.29],[2.49,-1.27],[1.71,-1.23],[1.84,-1.19],[1.92,-1.15],[2.18,-1.19],[2.31,-1.15],[2.62,-1.13],[2.94,-1.06],[3.4,-0.33],[3.55,-0.55],[3.63,-0.67],[3.69,-0.68],[0.85,-0.8],[0.2,-0.78],[0.35,-0.8],[-0.03,-1],[0.06,-1.02],[0.04,-1.78],[2.78,-0.3],[2.78,-0.4],[2.88,-0.42],[2.85,-0.5]];
const redLower = [[-3.05,-1.71],[-2.95,-1.75],[-2.8,-1.71],[-2.98,-1.67],[-2.66,-1.58],[-2.6,-1.77],[-2.45,-1.86],[-2.38,-1.86],[-2.3,-1.86],[-2.22,-1.87],[-2.14,-1.87],[-2.06,-1.86],[-2.23,-1.43],[-2.2,-1.55],[-2.19,-1.68],[-1.98,-1.43],[-0.92,-1.13],[-1.04,-1.11],[-0.96,-1.47],[-0.84,-2.11],[-1.8,-2.11],[-1.72,-2.19],[-1.67,-2.19],[-2.7,-1.58],[-2.64,-1.77],[-2.41,-1.86],[-2.34,-1.86],[-2.26,-1.86],[-2.18,-1.87],[-2.1,-1.87],[-2.21,-1.5],[-2.19,-1.62],[-1.93,-1.43],[-1.78,-2.18]];
const redRows = [
[-1.2,[-1.3,-1.2,-1.1,-1.03]],
[-1.3,[-1.7,-1.54,-1.38,-1.3,-1.2,-1.12]],
[-1.38,[-1.7,-1.34,-1.24,-1.14]],
[-1.45,[-1.72,-1.62,-1.36,-1.28,-1.18,-1.1]],
[-1.52,[-1.76,-1.67,-1.4,-1.3,-1.2,-1.12]],
[-1.6,[-1.8,-1.72,-1.62,-1.52,-1.42,-1.32,-1.22,-1.14]],
[-1.68,[-1.84,-1.76,-1.62,-1.42,-1.32,-1.22]],
[-1.75,[-1.88,-1.8,-1.7,-1.62,-1.45,-1.35,-1.25]],
[-1.82,[-1.92,-1.84,-1.75,-1.65,-1.55,-1.45,-1.35]],
[-1.88,[-1.95,-1.88,-1.8,-1.7,-1.6,-1.5,-1.42,-1.35]],
[-2,[-1.88,-1.8]],
[0.21,[2.67,2.75,2.83,2.93]],
[0.15,[2.7,2.8,2.9,3]],
[0.09,[2.46,2.54,2.62,2.72,2.82,2.92,3.02,3.12,3.24]],
[0.03,[2.4,2.5,2.58,2.7,2.8,2.9,3,3.1,3.2,3.3]],
[-0.03,[2.15,2.25,2.35,2.45,2.55,2.62,2.77,2.87,2.97,3.07,3.17,3.27,3.37,3.45]],
[-0.09,[1.95,2.05,2.15,2.25,2.35,2.45,2.55,2.72,2.82,2.92,3.02,3.12,3.22,3.3,3.4]],
[-0.15,[1.68,1.78,1.88,1.98,2.08,2.18,2.28,2.38,2.48,2.66,2.76,2.86,2.96,3.06,3.16,3.29]],
[-0.21,[1.55,1.65,1.75,1.85,1.95,2.05,2.15,2.25,2.35,2.45,2.55,2.7,2.8,2.9,3,3.1,3.2,3.25]],
[-0.27,[1.48,1.58,1.68,1.78,1.88,1.98,2.08,2.18,2.28,2.38,2.48,2.58,2.68,2.88,2.98,3.08,3.18,3.29]],
[-0.33,[1.35,1.45,1.55,1.65,1.75,1.85,1.95,2.05,2.15,2.25,2.35,2.45,2.55,2.65,2.95,3.05,3.15,3.25,3.35]],
[-0.39,[1.27,1.37,1.47,1.57,1.67,1.77,1.87,1.97,2.07,2.17,2.27,2.37,2.47,2.57,2.67,2.93,3.1,3.2,3.3,3.4]],
[-0.45,[1.2,1.3,1.4,1.5,1.6,1.7,1.8,1.9,2,2.1,2.2,2.3,2.4,2.5,2.6,2.7,3,3.1,3.2,3.3,3.4]],
[-0.51,[1.11,1.21,1.31,1.41,1.51,1.61,1.71,1.81,1.91,2.01,2.11,2.21,2.31,2.41,2.51,2.61,2.77,2.95,3.05,3.15,3.25,3.35,3.45]],
[-0.57,[0.9,1,1.1,1.2,1.3,1.4,1.5,1.6,1.7,1.8,1.9,2,2.1,2.2,2.3,2.4,2.5,2.6,2.7,2.8,2.9,3,3.1,3.2,3.3,3.4,3.5]],
[-0.63,[0.65,0.75,0.85,0.95,1.05,1.15,1.25,1.35,1.45,1.55,1.65,1.75,1.85,1.95,2.05,2.15,2.25,2.35,2.45,2.55,2.65,2.75,2.85,2.95,3.05,3.15,3.25,3.35,3.45,3.6]],
[-0.69,[0.45,0.55,0.65,0.75,0.85,0.95,1.05,1.15,1.25,1.35,1.45,1.55,1.65,1.75,1.85,1.95,2.05,2.15,2.25,2.35,2.45,2.55,2.65,2.75,2.85,2.95,3.05,3.15,3.25,3.35,3.45,3.55,3.6]],
[-0.75,[0.28,0.36,0.46,0.56,0.66,0.76,0.86,0.96,1.06,1.16,1.26,1.36,1.46,1.56,1.66,1.76,1.86,1.96,2.06,2.16,2.26,2.36,2.46,2.56,2.66,2.76,2.86,2.96,3.06,3.16,3.26,3.36,3.46,3.56,3.66]],
[-0.81,[1.55,1.65,1.75,1.85,1.95,2.05,2.15,2.25,2.35,2.45,2.55,2.65,2.75,2.85,2.95,3.05,3.15,3.25,3.35,3.45,3.55,3.6]],
[-0.87,[1.53,1.63,1.73,1.83,1.93,2.03,2.13,2.23,2.33,2.43,2.53,2.63,2.73,2.83,2.93,3.03,3.13,3.23,3.33,3.43,3.58]],
[-0.93,[1.6,1.7,1.8,1.9,2,2.1,2.2,2.3,2.4,2.5,2.6,2.7,2.8,2.9,3,3.1,3.2,3.3,3.4]],
[-0.99,[1.63,1.73,1.83,1.93,2.03,2.13,2.23,2.33,2.43,2.53,2.63,2.73,2.83,2.93,3.03,3.13,3.23,3.33]],
[-1.05,[1.75,1.85,1.95,2.05,2.15,2.25,2.35,2.45,2.55,2.6,2.75,2.9]],
[-1.11,[1.8,1.9,2,2.2,2.3,2.4,2.5,2.6]]
];

const fromRows = rows => rows.flatMap(([y, xs]) => xs.map(x => [x, y]));
const bluePoints = [...blueLeftClump, ...blueSparseUpper, ...blueMidScatter, ...blueSparseLeft, ...blueStreaks, ...blueWedge, ...blueBand, ...blueColumn, ...fromRows(blueRows)];
const redPoints = [...redTopLeft, ...redClump, ...redSpine, ...redIsolated, ...redLower, ...fromRows(redRows)];

const FONT = "Liberation Sans", INK = "#262626";
const minus = v => String(v).replace("-", "\u2212");
const chart = echarts.init(document.getElementById("c"), null, {renderer: "canvas"});
chart.setOption({
  animation: false,
  backgroundColor: "#fff",
  textStyle: {fontFamily: FONT, color: INK},
  title: {text: title, left: 430, top: 46, textAlign: "center",
    textStyle: {fontFamily: FONT, fontWeight: "normal", fontSize: 16.7, color: INK}},
  grid: [
    {left: 125, width: 620, top: 73, height: 461, show: true, backgroundColor: "#EAEAF2", borderWidth: 0},
    {left: 785, width: 21, top: 73, height: 461, show: false}
  ],
  xAxis: [
    {type: "value", gridIndex: 0, min: -5.125, max: 4.5625, name: "Principal Component 1",
     nameLocation: "middle", nameGap: 28, nameTextStyle: {fontSize: 13.9, color: INK, fontFamily: FONT},
     axisLine: {show: false}, axisTick: {show: false, customValues: xTicks},
     axisLabel: {customValues: xTicks, formatter: minus, fontSize: 13.9, color: INK, margin: 9, fontFamily: FONT},
     splitLine: {show: true, lineStyle: {color: "#fff", width: 1.1}}},
    {type: "category", gridIndex: 1, data: ["c"], show: false}
  ],
  yAxis: [
    {type: "value", gridIndex: 0, min: -2.70, max: 8.37, name: "Principal Component 2",
     nameLocation: "middle", nameGap: 32, nameMoveOverlap: false, nameTextStyle: {fontSize: 13.9, color: INK, fontFamily: FONT},
     axisLine: {show: false}, axisTick: {show: false, customValues: yTicks},
     axisLabel: {customValues: yTicks, formatter: minus, fontSize: 13.9, color: INK, margin: 9, fontFamily: FONT, padding: [3,0,0,0]},
     splitLine: {show: true, lineStyle: {color: "#fff", width: 1.1}}},
    {type: "value", gridIndex: 1, position: "right", min: 0, max: 1, interval: 0.2, name: "Prediction",
     nameLocation: "middle", nameRotate: 90, nameGap: 36, nameTextStyle: {fontSize: 13.9, color: INK, fontFamily: FONT},
     axisLine: {show: false}, axisTick: {show: true, length: 4, lineStyle: {color: INK, width: 1}},
     axisLabel: {formatter: v => v.toFixed(1), fontSize: 13.9, color: INK, margin: 11, fontFamily: FONT, padding: [3,0,0,0]},
     splitLine: {show: false}}
  ],
  series: [
    {type: "scatter", xAxisIndex: 0, yAxisIndex: 0, data: bluePoints, symbolSize: 7.8, silent: true,
     itemStyle: {color: BLUE, opacity: 1}},
    {type: "scatter", xAxisIndex: 0, yAxisIndex: 0, data: redPoints, symbolSize: 7.8, silent: true,
     itemStyle: {color: RED, opacity: 1}},
    {type: "bar", xAxisIndex: 1, yAxisIndex: 1, data: [1], barWidth: "100%", silent: true,
     itemStyle: {color: {type: "linear", x: 0, y: 1, x2: 0, y2: 0, colorStops: [
       {offset: 0, color: "#3b4cc0"}, {offset: 0.125, color: "#6282ea"}, {offset: 0.25, color: "#8db0fe"},
       {offset: 0.375, color: "#b8d0f9"}, {offset: 0.5, color: "#dddcdc"}, {offset: 0.625, color: "#f5c4ac"},
       {offset: 0.75, color: "#f4987a"}, {offset: 0.875, color: "#de614d"}, {offset: 1, color: "#b40426"}]}}}
  ]
});
</script></body></html>
